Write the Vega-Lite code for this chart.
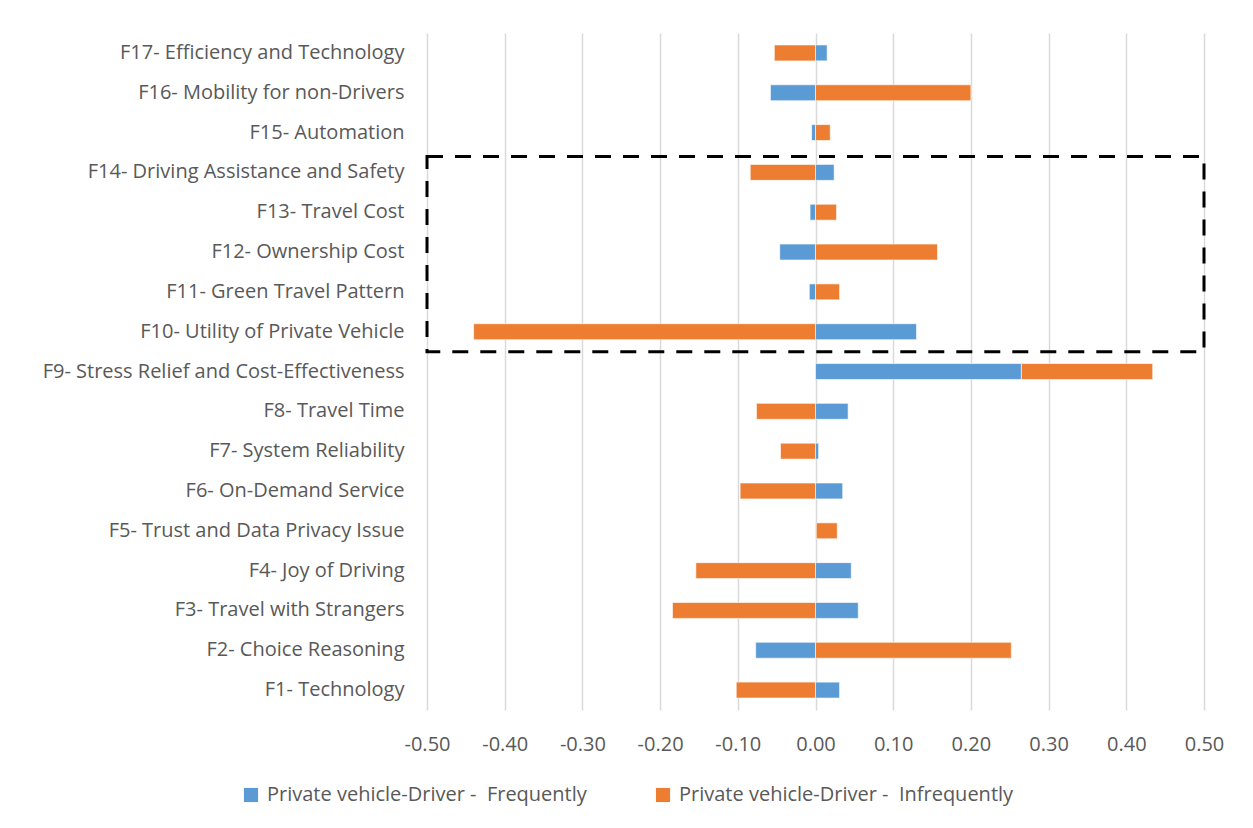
{
  "$schema": "https://vega.github.io/schema/vega-lite/v6.json",
  "width": 777,
  "height": 677,
  "autosize": {"type": "none"},
  "padding": {"left": 427, "top": 33, "right": 49, "bottom": 118},
  "background": "white",
  "config": {
    "font": "Open Sans",
    "view": {"stroke": null},
    "axis": {"labelColor": "#595959", "labelFont": "Open Sans", "labelFontSize": 20}
  },
  "datasets": {
    "bars": [
      {"factor": "F17- Efficiency and Technology", "series": "Private vehicle-Driver - \u00a0Frequently", "value": 0.015},
      {"factor": "F17- Efficiency and Technology", "series": "Private vehicle-Driver - \u00a0Infrequently", "value": -0.053},
      {"factor": "F16- Mobility for non-Drivers", "series": "Private vehicle-Driver - \u00a0Frequently", "value": -0.058},
      {"factor": "F16- Mobility for non-Drivers", "series": "Private vehicle-Driver - \u00a0Infrequently", "value": 0.2},
      {"factor": "F15- Automation", "series": "Private vehicle-Driver - \u00a0Frequently", "value": -0.005},
      {"factor": "F15- Automation", "series": "Private vehicle-Driver - \u00a0Infrequently", "value": 0.019},
      {"factor": "F14- Driving Assistance and Safety", "series": "Private vehicle-Driver - \u00a0Frequently", "value": 0.024},
      {"factor": "F14- Driving Assistance and Safety", "series": "Private vehicle-Driver - \u00a0Infrequently", "value": -0.084},
      {"factor": "F13- Travel Cost", "series": "Private vehicle-Driver - \u00a0Frequently", "value": -0.007},
      {"factor": "F13- Travel Cost", "series": "Private vehicle-Driver - \u00a0Infrequently", "value": 0.027},
      {"factor": "F12- Ownership Cost", "series": "Private vehicle-Driver - \u00a0Frequently", "value": -0.046},
      {"factor": "F12- Ownership Cost", "series": "Private vehicle-Driver - \u00a0Infrequently", "value": 0.157},
      {"factor": "F11- Green Travel Pattern", "series": "Private vehicle-Driver - \u00a0Frequently", "value": -0.008},
      {"factor": "F11- Green Travel Pattern", "series": "Private vehicle-Driver - \u00a0Infrequently", "value": 0.031},
      {"factor": "F10- Utility of Private Vehicle", "series": "Private vehicle-Driver - \u00a0Frequently", "value": 0.13},
      {"factor": "F10- Utility of Private Vehicle", "series": "Private vehicle-Driver - \u00a0Infrequently", "value": -0.44},
      {"factor": "F9- Stress Relief and Cost-Effectiveness", "series": "Private vehicle-Driver - \u00a0Frequently", "value": 0.265},
      {"factor": "F9- Stress Relief and Cost-Effectiveness", "series": "Private vehicle-Driver - \u00a0Infrequently", "value": 0.169},
      {"factor": "F8- Travel Time", "series": "Private vehicle-Driver - \u00a0Frequently", "value": 0.042},
      {"factor": "F8- Travel Time", "series": "Private vehicle-Driver - \u00a0Infrequently", "value": -0.076},
      {"factor": "F7- System Reliability", "series": "Private vehicle-Driver - \u00a0Frequently", "value": 0.004},
      {"factor": "F7- System Reliability", "series": "Private vehicle-Driver - \u00a0Infrequently", "value": -0.045},
      {"factor": "F6- On-Demand Service", "series": "Private vehicle-Driver - \u00a0Frequently", "value": 0.035},
      {"factor": "F6- On-Demand Service", "series": "Private vehicle-Driver - \u00a0Infrequently", "value": -0.097},
      {"factor": "F5- Trust and Data Privacy Issue", "series": "Private vehicle-Driver - \u00a0Frequently", "value": 0.001},
      {"factor": "F5- Trust and Data Privacy Issue", "series": "Private vehicle-Driver - \u00a0Infrequently", "value": 0.027},
      {"factor": "F4- Joy of Driving", "series": "Private vehicle-Driver - \u00a0Frequently", "value": 0.046},
      {"factor": "F4- Joy of Driving", "series": "Private vehicle-Driver - \u00a0Infrequently", "value": -0.154},
      {"factor": "F3- Travel with Strangers", "series": "Private vehicle-Driver - \u00a0Frequently", "value": 0.055},
      {"factor": "F3- Travel with Strangers", "series": "Private vehicle-Driver - \u00a0Infrequently", "value": -0.184},
      {"factor": "F2- Choice Reasoning", "series": "Private vehicle-Driver - \u00a0Frequently", "value": -0.077},
      {"factor": "F2- Choice Reasoning", "series": "Private vehicle-Driver - \u00a0Infrequently", "value": 0.252},
      {"factor": "F1- Technology", "series": "Private vehicle-Driver - \u00a0Frequently", "value": 0.031},
      {"factor": "F1- Technology", "series": "Private vehicle-Driver - \u00a0Infrequently", "value": -0.102}
    ],
    "box": [
      {"top": "F14- Driving Assistance and Safety", "bottom": "F10- Utility of Private Vehicle", "x1": -0.5, "x2": 0.5}
    ]
  },
  "layer": [
    {
      "data": {"name": "bars"},
      "mark": {"type": "bar", "stroke": "white", "strokeWidth": 1, "strokeOpacity": 0.6},
      "encoding": {
        "y": {
          "field": "factor", "type": "nominal",
          "scale": {"domain": ["F17- Efficiency and Technology", "F16- Mobility for non-Drivers", "F15- Automation", "F14- Driving Assistance and Safety", "F13- Travel Cost", "F12- Ownership Cost", "F11- Green Travel Pattern", "F10- Utility of Private Vehicle", "F9- Stress Relief and Cost-Effectiveness", "F8- Travel Time", "F7- System Reliability", "F6- On-Demand Service", "F5- Trust and Data Privacy Issue", "F4- Joy of Driving", "F3- Travel with Strangers", "F2- Choice Reasoning", "F1- Technology"], "paddingInner": 0.6, "paddingOuter": 0.3},
          "axis": {"title": null, "ticks": false, "domain": false, "grid": false, "labelPadding": 23, "labelLimit": 400}
        },
        "x": {
          "field": "value", "type": "quantitative", "stack": "zero",
          "scale": {"domain": [-0.5, 0.5], "nice": false},
          "axis": {"title": null, "values": [-0.5, -0.4, -0.3, -0.2, -0.1, 0, 0.1, 0.2, 0.3, 0.4, 0.5], "labelExpr": "(datum.value < -0.0001 ? '-' : '') + format(abs(datum.value), '.2f')", "labelFlush": false, "labelOverlap": false, "grid": true, "gridColor": "#d9d9d9", "gridWidth": 1.5, "ticks": false, "domain": false, "labelPadding": 24}
        },
        "color": {
          "field": "series", "type": "nominal",
          "scale": {"domain": ["Private vehicle-Driver - \u00a0Frequently", "Private vehicle-Driver - \u00a0Infrequently"], "range": ["#5b9bd5", "#ed7d31"]},
          "legend": {"title": null, "orient": "none", "direction": "horizontal", "legendX": -186, "legendY": 752, "symbolType": "square", "symbolSize": 200, "symbolStrokeWidth": 0, "labelFontSize": 20, "labelColor": "#595959", "labelFont": "Open Sans", "columnPadding": 66, "labelOffset": 6, "labelLimit": 500}
        },
        "order": {"field": "series", "sort": "ascending"}
      }
    },
    {
      "data": {"name": "box"},
      "mark": {"type": "rect", "fill": null, "stroke": "black", "strokeWidth": 3, "strokeDash": [16, 12], "yOffset": -16, "y2Offset": 20},
      "encoding": {
        "x": {"field": "x1", "type": "quantitative"},
        "x2": {"field": "x2"},
        "y": {"field": "top", "type": "nominal"},
        "y2": {"field": "bottom"}
      }
    }
  ]
}
